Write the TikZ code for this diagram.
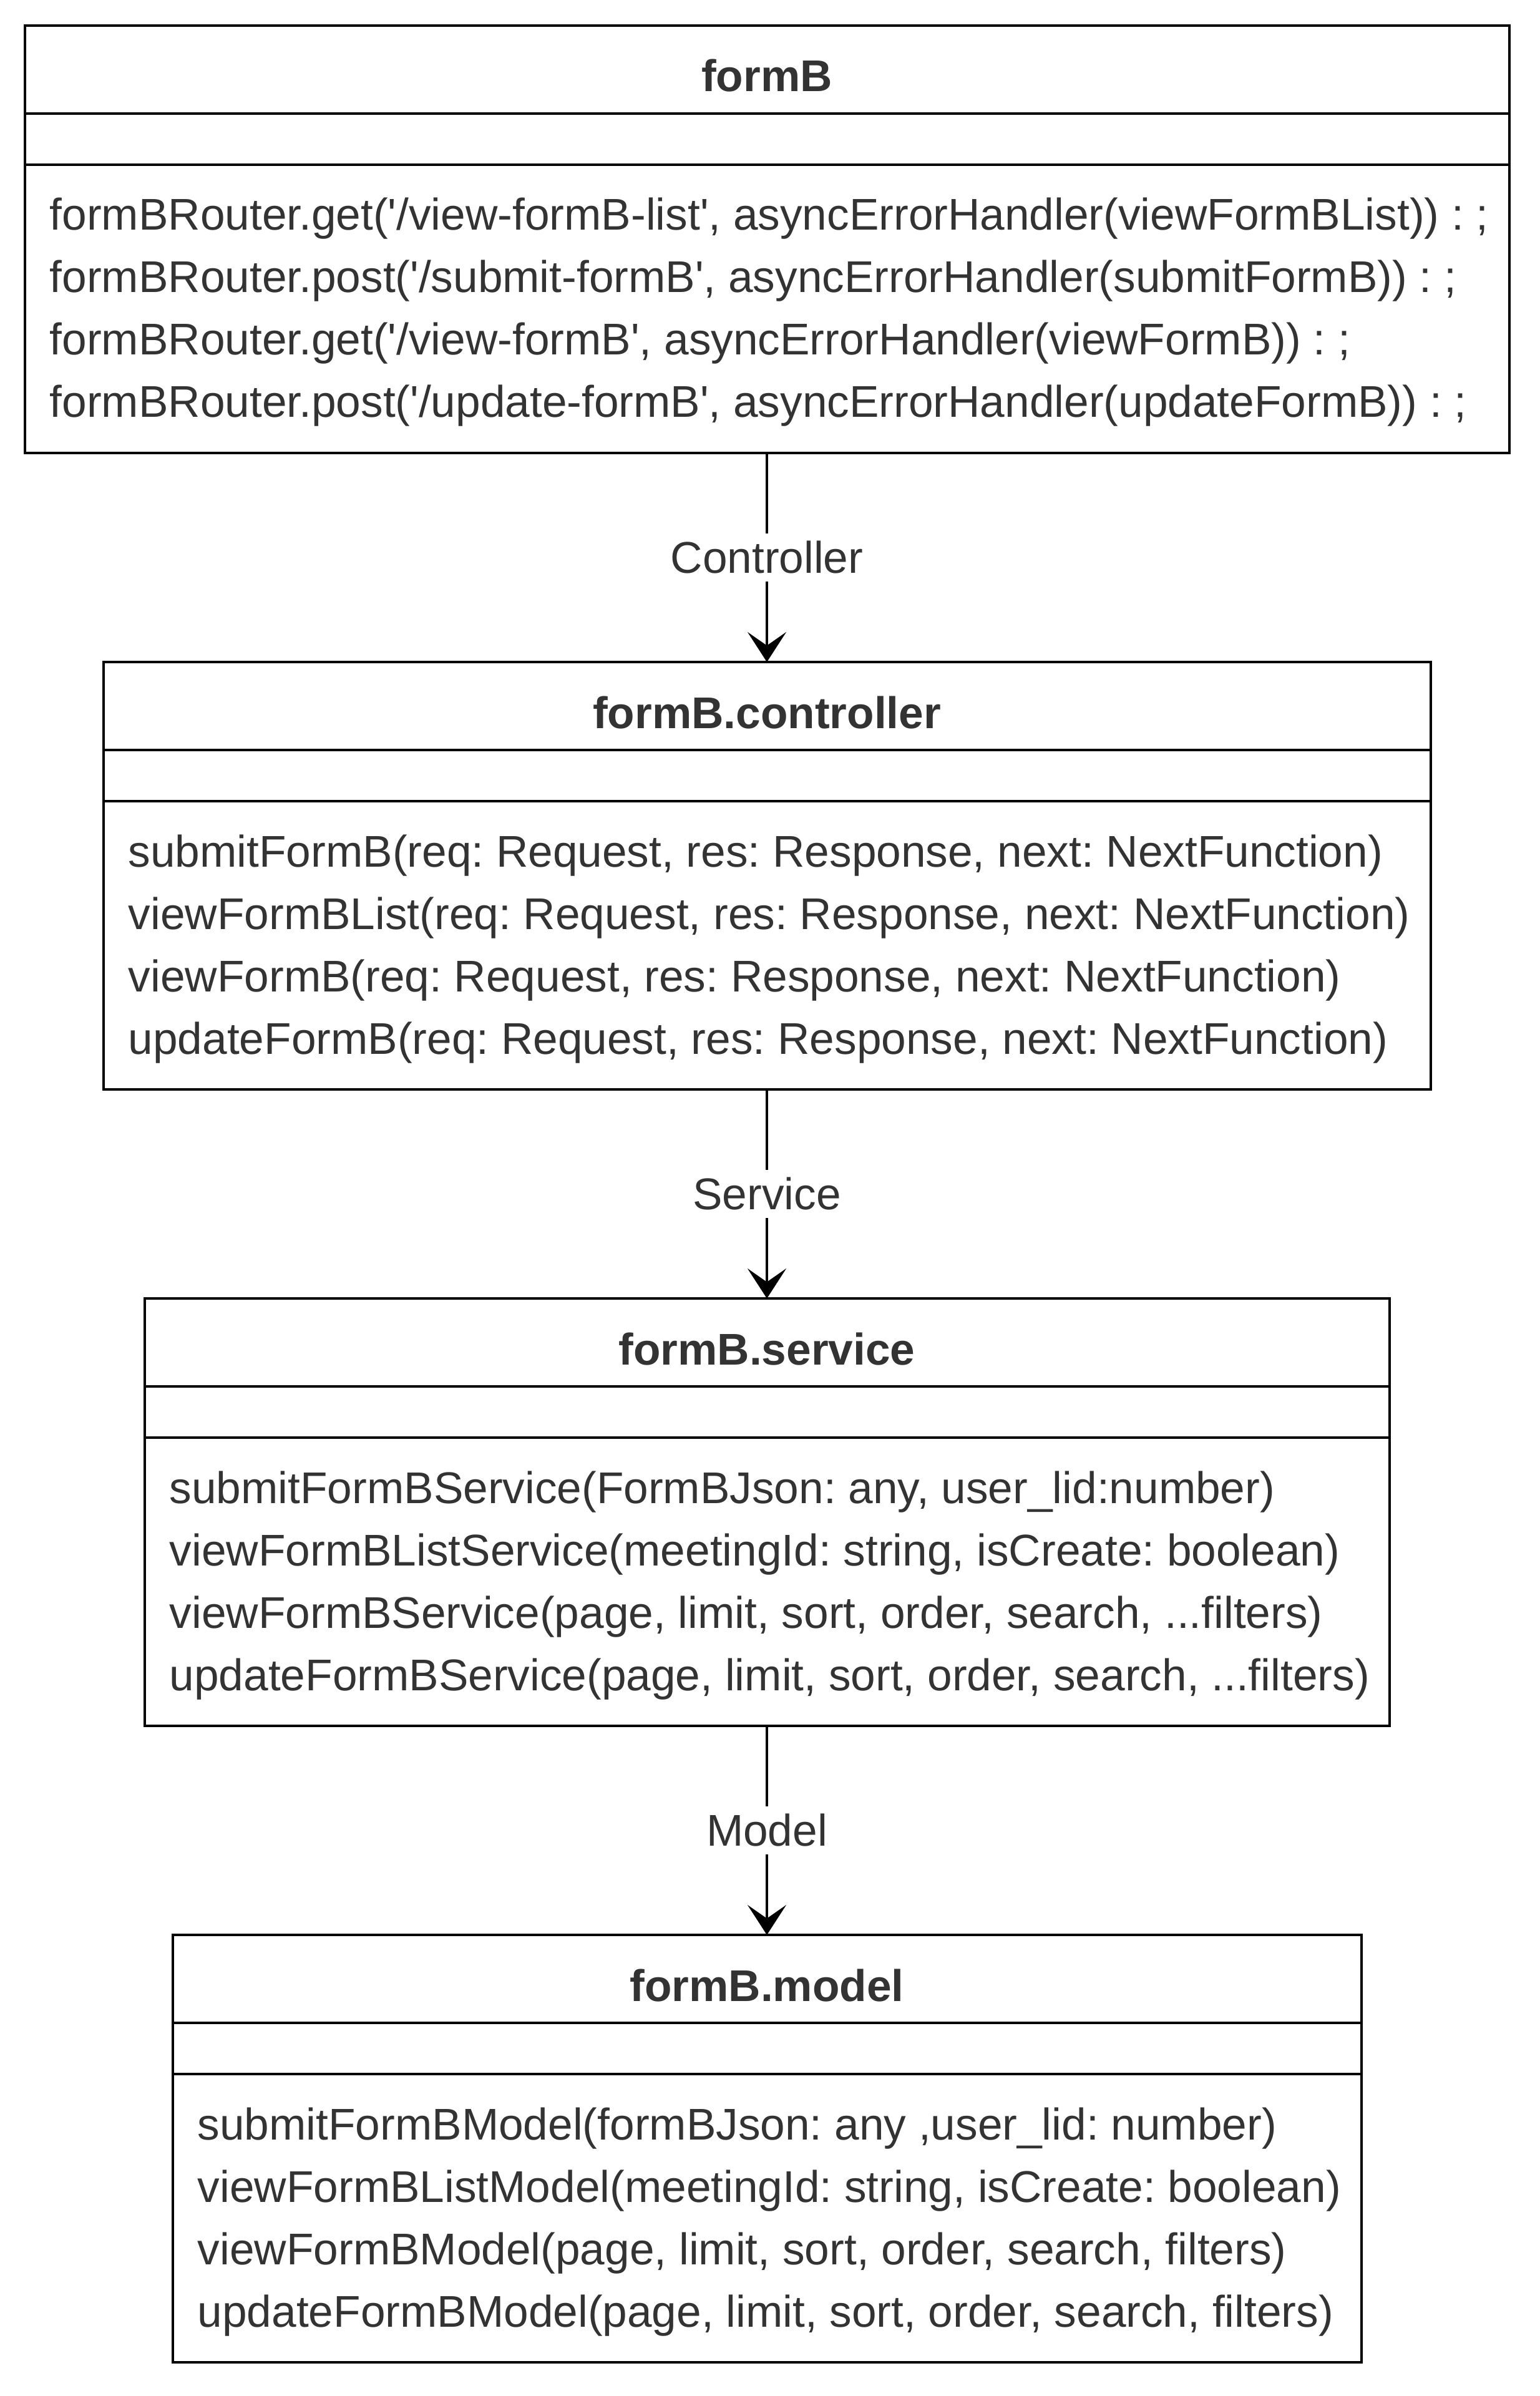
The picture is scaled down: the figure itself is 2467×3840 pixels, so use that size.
\documentclass[tikz,border=0pt]{standalone}
\usepackage{fontspec}
\setmainfont{Liberation Sans}
\usetikzlibrary{arrows.meta,calc}
\definecolor{txt}{HTML}{333333}
\newcommand{\sq}{\textquotesingle}
\begin{document}
\frenchspacing
\begin{tikzpicture}[x=0.25pt,y=-0.25pt,
  umlbox/.style={draw=black,line width=1pt,fill=white,inner sep=0pt,outer sep=0pt,rectangle},
  sepline/.style={draw=black,line width=1pt},
  ttl/.style={text=txt,font=\fontsize{17.8pt}{21pt}\selectfont\bfseries,anchor=base,inner sep=0pt},
  itm/.style={text=txt,font=\fontsize{17.8pt}{21pt}\selectfont,anchor=base west,inner sep=0pt},
  lbl/.style={text=txt,font=\fontsize{17.8pt}{21pt}\selectfont,fill=white,inner sep=3pt},
  conn/.style={draw=black,line width=1pt,-{Stealth[length=12pt,width=15.5pt,inset=5.4pt]}}]
\useasboundingbox (0,0) rectangle (2467,3840);

% Box 1
\node[umlbox,minimum width=594.75pt,minimum height=171.25pt] (b1) at (1229,383.5) {};
\draw[sepline] ($(b1.north west)+(0,141)$) -- ($(b1.north east)+(0,141)$);
\draw[sepline] ($(b1.north west)+(0,223)$) -- ($(b1.north east)+(0,223)$);
\node[ttl] (b1t) at ($(b1.north)+(0,106)$) {formB};
\node[itm] (b1a) at ($(b1.north west)+(39.5,328)$) {formBRouter.get(\sq/view-formB-list\sq, asyncErrorHandler(viewFormBList)) : ;};
\node[itm] (b1b) at ($(b1.north west)+(39.5,428)$) {formBRouter.post(\sq/submit-formB\sq, asyncErrorHandler(submitFormB)) : ;};
\node[itm] (b1c) at ($(b1.north west)+(39.5,528)$) {formBRouter.get(\sq/view-formB\sq, asyncErrorHandler(viewFormB)) : ;};
\node[itm] (b1d) at ($(b1.north west)+(39.5,628)$) {formBRouter.post(\sq/update-formB\sq, asyncErrorHandler(updateFormB)) : ;};

% Box 2
\node[umlbox,minimum width=531.75pt,minimum height=171.25pt] (b2) at (1229,1403.5) {};
\draw[sepline] ($(b2.north west)+(0,141)$) -- ($(b2.north east)+(0,141)$);
\draw[sepline] ($(b2.north west)+(0,223)$) -- ($(b2.north east)+(0,223)$);
\node[ttl] (b2t) at ($(b2.north)+(0,106)$) {formB.controller};
\node[itm] (b2a) at ($(b2.north west)+(39.5,328)$) {submitFormB(req: Request, res: Response, next: NextFunction)};
\node[itm] (b2b) at ($(b2.north west)+(39.5,428)$) {viewFormBList(req: Request, res: Response, next: NextFunction)};
\node[itm] (b2c) at ($(b2.north west)+(39.5,528)$) {viewFormB(req: Request, res: Response, next: NextFunction)};
\node[itm] (b2d) at ($(b2.north west)+(39.5,628)$) {updateFormB(req: Request, res: Response, next: NextFunction)};

% Box 3
\node[umlbox,minimum width=498.75pt,minimum height=171.25pt] (b3) at (1229,2423.5) {};
\draw[sepline] ($(b3.north west)+(0,141)$) -- ($(b3.north east)+(0,141)$);
\draw[sepline] ($(b3.north west)+(0,223)$) -- ($(b3.north east)+(0,223)$);
\node[ttl] (b3t) at ($(b3.north)+(0,106)$) {formB.service};
\node[itm] (b3a) at ($(b3.north west)+(39.5,328)$) {submitFormBService(FormBJson: any, user\_lid:number)};
\node[itm] (b3b) at ($(b3.north west)+(39.5,428)$) {viewFormBListService(meetingId: string, isCreate: boolean)};
\node[itm] (b3c) at ($(b3.north west)+(39.5,528)$) {viewFormBService(page, limit, sort, order, search, ...filters)};
\node[itm] (b3d) at ($(b3.north west)+(39.5,628)$) {updateFormBService(page, limit, sort, order, search, ...filters)};

% Box 4
\node[umlbox,minimum width=476.25pt,minimum height=171.25pt] (b4) at (1229,3443.5) {};
\draw[sepline] ($(b4.north west)+(0,141)$) -- ($(b4.north east)+(0,141)$);
\draw[sepline] ($(b4.north west)+(0,223)$) -- ($(b4.north east)+(0,223)$);
\node[ttl] (b4t) at ($(b4.north)+(0,106)$) {formB.model};
\node[itm] (b4a) at ($(b4.north west)+(39.5,328)$) {submitFormBModel(formBJson: any ,user\_lid: number)};
\node[itm] (b4b) at ($(b4.north west)+(39.5,428)$) {viewFormBListModel(meetingId: string, isCreate: boolean)};
\node[itm] (b4c) at ($(b4.north west)+(39.5,528)$) {viewFormBModel(page, limit, sort, order, search, filters)};
\node[itm] (b4d) at ($(b4.north west)+(39.5,628)$) {updateFormBModel(page, limit, sort, order, search, filters)};

% Connectors
\draw[conn] (b1.south) -- node[lbl] (l1) {Controller} (b2.north);
\draw[conn] (b2.south) -- node[lbl] (l2) {Service} (b3.north);
\draw[conn] (b3.south) -- node[lbl] (l3) {Model} (b4.north);
\end{tikzpicture}
\end{document}
